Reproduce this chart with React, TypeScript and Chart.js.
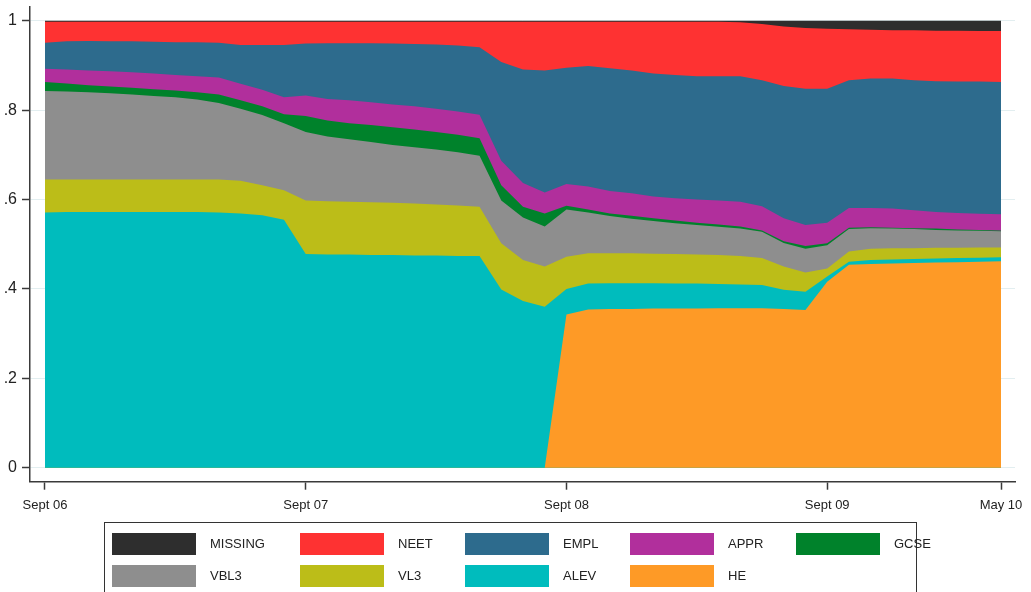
import React, { useEffect, useRef } from "react";
import { Chart, registerables } from "chart.js";

Chart.register(...registerables);

// Months since Sept 2006 (0 = Sept 06 ... 44 = May 10)
const monthIndex: number[] = Array.from({ length: 45 }, (_, i) => i);

const xTickPositions = [0, 12, 24, 36, 44];
const xTickLabels = ["Sept 06", "Sept 07", "Sept 08", "Sept 09", "May 10"];
const yTickPositions = [0, 0.2, 0.4, 0.6, 0.8, 1];
const yTickLabels = ["0", ".2", ".4", ".6", ".8", "1"];

// Share of cohort in each status, by month (bottom of stack first)
const heShare = [
  0, 0, 0, 0, 0, 0, 0, 0, 0, 0, 0, 0, 0, 0, 0, 0, 0, 0, 0, 0, 0, 0, 0, 0,
  0.343, 0.354, 0.355, 0.355, 0.356, 0.356, 0.356, 0.357, 0.357, 0.357, 0.355, 0.353,
  0.416, 0.454, 0.456, 0.457, 0.458, 0.459, 0.46, 0.461, 0.462,
];
const alevShare = [
  0.571, 0.572, 0.572, 0.572, 0.572, 0.572, 0.572, 0.572, 0.571, 0.569, 0.565, 0.555,
  0.478, 0.477, 0.477, 0.476, 0.476, 0.475, 0.475, 0.474, 0.474, 0.399, 0.373, 0.36,
  0.057, 0.058, 0.058, 0.058, 0.057, 0.056, 0.056, 0.054, 0.053, 0.052, 0.043, 0.041,
  0.012, 0.007, 0.009, 0.009, 0.009, 0.009, 0.009, 0.009, 0.009,
];
const vl3Share = [
  0.074, 0.073, 0.073, 0.073, 0.073, 0.073, 0.073, 0.073, 0.074, 0.073, 0.067, 0.066,
  0.12, 0.119, 0.118, 0.118, 0.117, 0.116, 0.114, 0.113, 0.11, 0.103, 0.092, 0.09,
  0.072, 0.068, 0.067, 0.067, 0.066, 0.066, 0.065, 0.065, 0.064, 0.06, 0.052, 0.043,
  0.018, 0.023, 0.025, 0.025, 0.024, 0.024, 0.023, 0.023, 0.022,
];
const vbl3Share = [
  0.198, 0.197, 0.195, 0.193, 0.19, 0.187, 0.184, 0.179, 0.171, 0.161, 0.157, 0.15,
  0.153, 0.145, 0.14, 0.135, 0.129, 0.126, 0.123, 0.119, 0.114, 0.096, 0.095, 0.09,
  0.106, 0.091, 0.083, 0.077, 0.073, 0.069, 0.066, 0.063, 0.061, 0.059, 0.053, 0.053,
  0.052, 0.05, 0.046, 0.044, 0.043, 0.04, 0.039, 0.037, 0.036,
];
const gcseShare = [
  0.02, 0.018, 0.016, 0.015, 0.015, 0.015, 0.015, 0.016, 0.019, 0.019, 0.02, 0.02,
  0.036, 0.036, 0.036, 0.038, 0.04, 0.04, 0.039, 0.039, 0.039, 0.034, 0.024, 0.029,
  0.008, 0.007, 0.006, 0.007, 0.006, 0.006, 0.005, 0.005, 0.005, 0.003, 0.004, 0.006,
  0.004, 0.003, 0.002, 0.002, 0.002, 0.003, 0.002, 0.002, 0.002,
];
const apprShare = [
  0.03, 0.031, 0.033, 0.034, 0.035, 0.035, 0.035, 0.036, 0.038, 0.037, 0.037, 0.038,
  0.046, 0.048, 0.051, 0.051, 0.051, 0.052, 0.052, 0.052, 0.053, 0.055, 0.053, 0.047,
  0.049, 0.051, 0.05, 0.05, 0.049, 0.05, 0.052, 0.054, 0.055, 0.054, 0.051, 0.047,
  0.046, 0.044, 0.043, 0.043, 0.04, 0.037, 0.037, 0.036, 0.036,
];
const emplShare = [
  0.058, 0.063, 0.066, 0.067, 0.069, 0.071, 0.073, 0.076, 0.078, 0.087, 0.1, 0.117,
  0.116, 0.125, 0.128, 0.132, 0.136, 0.139, 0.144, 0.148, 0.151, 0.221, 0.254, 0.273,
  0.26, 0.27, 0.275, 0.275, 0.275, 0.276, 0.276, 0.278, 0.281, 0.282, 0.296, 0.305,
  0.3, 0.286, 0.29, 0.291, 0.291, 0.293, 0.294, 0.296, 0.296,
];
const neetShare = [
  0.047, 0.044, 0.043, 0.044, 0.044, 0.045, 0.046, 0.046, 0.047, 0.052, 0.052, 0.052,
  0.049, 0.048, 0.048, 0.048, 0.049, 0.05, 0.051, 0.053, 0.057, 0.09, 0.107, 0.109,
  0.103, 0.099, 0.104, 0.109, 0.116, 0.119, 0.122, 0.122, 0.121, 0.126, 0.133, 0.136,
  0.134, 0.114, 0.109, 0.108, 0.112, 0.113, 0.114, 0.113, 0.114,
];
const missingShare = [
  0.002, 0.002, 0.002, 0.002, 0.002, 0.002, 0.002, 0.002, 0.002, 0.002, 0.002, 0.002,
  0.002, 0.002, 0.002, 0.002, 0.002, 0.002, 0.002, 0.002, 0.002, 0.002, 0.002, 0.002,
  0.002, 0.002, 0.002, 0.002, 0.002, 0.002, 0.002, 0.002, 0.003, 0.007, 0.013, 0.016,
  0.018, 0.019, 0.02, 0.021, 0.021, 0.022, 0.022, 0.023, 0.023,
];

const seriesNames = ["HE", "ALEV", "VL3", "VBL3", "GCSE", "APPR", "EMPL", "NEET", "MISSING"];
const seriesValues = [
  heShare, alevShare, vl3Share, vbl3Share, gcseShare, apprShare, emplShare, neetShare, missingShare,
];
const seriesColors = [
  "#fe9a26", "#00bcbd", "#bcbd18", "#8e8e8e", "#00822b", "#b12f9c", "#2d6b8d", "#fe3232", "#2e2e2e",
];

const legendOrder = ["MISSING", "NEET", "EMPL", "APPR", "GCSE", "VBL3", "VL3", "ALEV", "HE"];

const FONT = "'Liberation Sans', Arial, Helvetica, sans-serif";

export default function App() {
  const canvasRef = useRef<HTMLCanvasElement | null>(null);

  useEffect(() => {
    const canvas = canvasRef.current;
    if (!canvas) return;
    const chart = new Chart(canvas, {
      type: "line",
      data: {
        datasets: seriesNames.map((name, k) => ({
          label: name,
          data: monthIndex.map((m) => ({ x: m, y: seriesValues[k][m] })),
          backgroundColor: seriesColors[k],
          borderColor: seriesColors[k],
          borderWidth: 0,
          pointRadius: 0,
          tension: 0,
          fill: "origin",
        })),
      },
      options: {
        animation: false,
        responsive: false,
        devicePixelRatio: 1,
        layout: { padding: { top: 7, right: 16, left: 0, bottom: 0 } },
        plugins: {
          legend: { display: false },
          tooltip: { enabled: false },
        },
        scales: {
          x: {
            type: "linear",
            min: -0.69,
            max: 44.644,
            afterBuildTicks: (s: any) => {
              s.ticks = xTickPositions.map((v) => ({ value: v }));
            },
            afterFit: (s: any) => {
              s.height = 110.3;
              s.paddingLeft = 0;
              s.paddingRight = 0;
            },
            ticks: {
              autoSkip: false,
              maxRotation: 0,
              padding: 8,
              color: "#222",
              font: { family: FONT, size: 13 },
              callback: (_v: any, i: number) => xTickLabels[i],
            },
            grid: {
              drawOnChartArea: false,
              tickLength: 8,
              tickColor: "#3a3a3a",
              tickWidth: 1.5,
            },
            border: { color: "#3a3a3a", width: 1.5 },
          },
          y: {
            stacked: true,
            min: -0.0313,
            max: 1.0309,
            afterBuildTicks: (s: any) => {
              s.ticks = yTickPositions.map((v) => ({ value: v }));
            },
            afterFit: (s: any) => {
              s.width = 30;
              s.paddingTop = 0;
              s.paddingBottom = 0;
            },
            ticks: {
              padding: 5,
              color: "#222",
              font: { family: FONT, size: 16 },
              callback: (_v: any, i: number) => yTickLabels[i],
            },
            grid: {
              color: "#e2eef0",
              lineWidth: 1,
              tickLength: 8,
              tickColor: "#3a3a3a",
              tickWidth: 1.5,
            },
            border: { color: "#3a3a3a", width: 1.5 },
          },
        },
      },
    });
    return () => chart.destroy();
  }, []);

  const colX = [112, 300, 465, 630, 796];
  const rowY = [533, 565];

  return (
    <div
      style={{
        position: "absolute",
        left: 0,
        top: 0,
        width: 1031,
        height: 592,
        overflow: "hidden",
        background: "#fff",
        fontFamily: FONT,
      }}
    >
      <canvas ref={canvasRef} width={1031} height={592} style={{ display: "block" }} />
      <div
        style={{
          position: "absolute",
          left: 104,
          top: 522,
          width: 813,
          height: 90,
          border: "1.5px solid #333",
          boxSizing: "border-box",
        }}
      />
      {legendOrder.map((name, i) => {
        const col = i % 5;
        const row = Math.floor(i / 5);
        const k = seriesNames.indexOf(name);
        return (
          <React.Fragment key={name}>
            <div
              style={{
                position: "absolute",
                left: colX[col],
                top: rowY[row],
                width: 84,
                height: 22,
                background: seriesColors[k],
              }}
            />
            <div
              style={{
                position: "absolute",
                left: colX[col] + 98,
                top: rowY[row],
                height: 22,
                lineHeight: "22px",
                fontSize: 13,
                color: "#222",
                whiteSpace: "nowrap",
              }}
            >
              {name}
            </div>
          </React.Fragment>
        );
      })}
    </div>
  );
}
